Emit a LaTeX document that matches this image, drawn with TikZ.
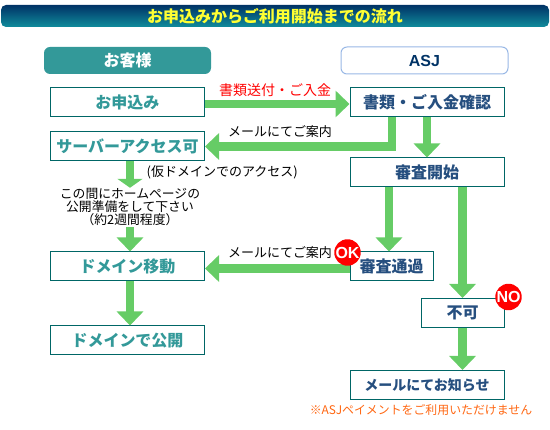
\documentclass[tikz,border=0pt]{standalone}
\usepackage{fontspec}
\setmainfont{Noto Sans CJK JP}
\setsansfont{Liberation Sans}
\usepackage{xcolor}
\definecolor{barnavy}{HTML}{003366}
\definecolor{barteal}{HTML}{108C9C}
\definecolor{titleyellow}{HTML}{FFFF33}
\definecolor{headteal}{HTML}{339999}
\definecolor{asjedge}{HTML}{99B8E6}
\definecolor{asjnavy}{HTML}{003366}
\definecolor{boxedge}{HTML}{006666}
\definecolor{stepblue}{HTML}{264F7F}
\definecolor{flowgreen}{HTML}{66CC66}
\definecolor{noteorange}{HTML}{FF6611}
\usetikzlibrary{arrows.meta, positioning}

\begin{document}
\begin{tikzpicture}[x=1pt, y=-1pt]
    \tikzstyle{headnode} = [minimum height=27pt, minimum width=167pt, inner sep=0pt, rounded corners=6pt, font=\fontsize{16}{16}\selectfont\bfseries]
    \tikzstyle{flowbox} = [draw=boxedge, line width=1pt, fill=white, minimum height=29pt, minimum width=154pt, inner sep=0pt]
    \tikzstyle{userstep} = [flowbox, text=headteal, font=\fontsize{16}{16}\selectfont\bfseries]
    \tikzstyle{asjstep} = [flowbox, text=stepblue, font=\fontsize{16}{16}\selectfont\bfseries]
    \tikzstyle{flownote} = [font=\fontsize{13}{13}\selectfont, inner sep=0pt]
    \tikzstyle{badge} = [circle, fill=red, text=white, minimum size=26pt, inner sep=0pt, font=\fontsize{16}{16}\sffamily\bfseries\selectfont]
    \tikzstyle{flow} = [-{Triangle[length=14pt,width=26pt]}, line width=8.5pt, flowgreen, line join=miter]
    \useasboundingbox (0,0) rectangle (550,430);

    \node [minimum height=22pt, minimum width=548pt, inner sep=0pt, rounded corners=5pt, top color=barnavy, bottom color=barteal, text=titleyellow, font=\fontsize{16}{16}\selectfont\bfseries] (title) at (275,16) {お申込みからご利用開始までの流れ};
    \node [headnode, fill=headteal, text=white] (customer) at (127.5,60.5) {お客様};
    \node [headnode, draw=asjedge, line width=1pt, fill=white, text=asjnavy, font=\fontsize{16}{16}\sffamily\bfseries\selectfont] (asj) at ([xshift=297pt]customer.center) {ASJ};

    \node [userstep] (apply) at (127.5,102.5) {お申込み};
    \node [userstep, anchor=north] (access) at ([yshift=-14pt]apply.south) {サーバーアクセス可};
    \node [userstep, anchor=north] (move) at ([yshift=-90pt]access.south) {ドメイン移動};
    \node [userstep, anchor=north] (publish) at ([yshift=-44pt]move.south) {ドメインで公開};

    \node [asjstep] (confirm) at (427,102.5) {書類・ご入金確認};
    \node [asjstep, anchor=north] (review) at ([yshift=-40pt]confirm.south) {審査開始};
    \node [asjstep, anchor=north west, minimum width=83pt] (pass) at ([yshift=-64pt]review.south west) {審査通過};
    \node [asjstep, anchor=north east, minimum width=83pt] (reject) at ([yshift=-110.5pt]review.south east) {不可};
    \node [asjstep, anchor=north, font=\fontsize{14}{14}\selectfont\bfseries] (notify) at ([yshift=-42pt,xshift=-35.5pt]reject.south) {メールにてお知らせ};

    \node [flownote, align=center, font=\fontsize{12.8}{13.3}\selectfont] (prepare) at (130,207) {この間にホームページの\\公開準備をして下さい\\（約2週間程度）};
    \node [flownote, anchor=west] (tempnote) at ([xshift=19pt,yshift=-11pt]access.south) {(仮ドメインでのアクセス)};
    \node [flownote, text=red, font=\fontsize{14}{14}\selectfont] (paylabel) at (275,90) {書類送付・ご入金};
    \node [flownote] (mail1) at (280,132) {メールにてご案内};
    \node [flownote] (mail2) at (280,253) {メールにてご案内};
    \node [flownote, text=noteorange, font=\fontsize{11.9}{12}\selectfont] (paynote) at ([yshift=-10pt,xshift=-6pt]notify.south) {※ASJペイメントをご利用いただけません};

    \draw [flow] ([yshift=-1.5pt]apply.east) -- ([yshift=-1.5pt]confirm.west);
    \draw [flow] ([xshift=-35pt]confirm.south) |- (access.east);
    \draw [flow] (confirm.south) -- (review.north);
    \draw [flow] ([xshift=-38pt]review.south) -- ([xshift=-2.5pt]pass.north);
    \draw [flow] (reject.north |- review.south) -- (reject.north);
    \draw [flow] (reject.south) -- ([xshift=35.5pt]notify.north);
    \draw [flow] ([yshift=-2pt]pass.west) -- ([yshift=-2pt]move.east);
    \draw [flow, -{Triangle[length=9pt,width=25pt]}] ([xshift=2.5pt]access.south) -- (prepare.north);
    \draw [flow] ([yshift=-1pt]prepare.south) -- ([xshift=2.5pt]move.north);
    \draw [flow] ([xshift=2.5pt]move.south) -- ([xshift=2.5pt]publish.north);

    \node [badge] (okmark) at ([xshift=-2pt,yshift=-1pt]pass.north west) {OK};
    \node [badge] (nomark) at ([xshift=4pt,yshift=1pt]reject.north east) {NO};
\end{tikzpicture}
\end{document}
